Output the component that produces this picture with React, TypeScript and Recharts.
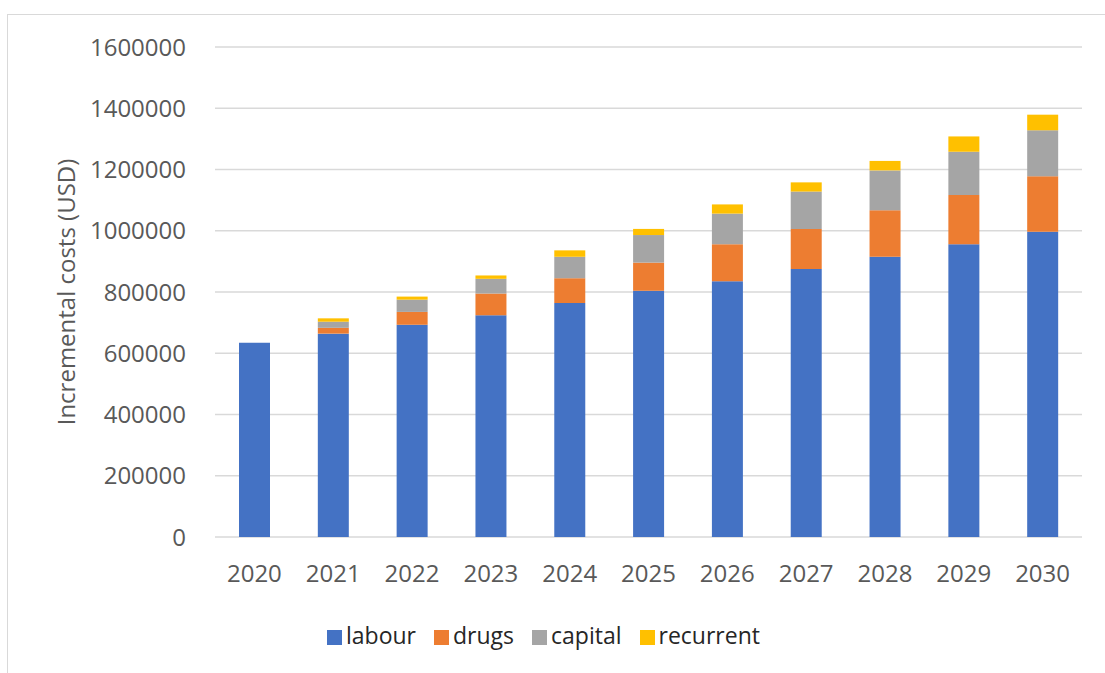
import { BarChart, Bar, XAxis, YAxis, CartesianGrid, Legend } from "recharts"

const years = ["2020", "2021", "2022", "2023", "2024", "2025", "2026", "2027", "2028", "2029", "2030"]
const labour = [634000, 664000, 693000, 724000, 764000, 804000, 835000, 875000, 915000, 956000, 997000]
const drugs = [0, 19000, 42000, 71000, 81000, 92000, 121000, 131000, 152000, 161000, 181000]
const capital = [0, 20000, 40000, 48000, 70000, 90000, 100000, 122000, 130000, 141000, 150000]
const recurrent = [0, 11000, 10000, 11000, 21000, 20000, 30000, 30000, 31000, 50000, 51000]
const yTicks = [0, 200000, 400000, 600000, 800000, 1000000, 1200000, 1400000, 1600000]

const chartData = years.map((year, i) => ({
  year,
  labour: labour[i],
  drugs: drugs[i],
  capital: capital[i],
  recurrent: recurrent[i],
}))

const font = "'Open Sans', 'DejaVu Sans', sans-serif"
const textColor = "#595959"

function YLabel(props: any) {
  const { viewBox } = props
  const cx = viewBox.x + 65
  const cy = viewBox.y + viewBox.height / 2
  return (
    <text
      x={cx}
      y={cy}
      transform={`rotate(-90, ${cx}, ${cy})`}
      textAnchor="middle"
      dominantBaseline="central"
      fill={textColor}
      fontSize={24}
      fontFamily={font}
    >
      Incremental costs (USD)
    </text>
  )
}

export default function App() {
  return (
    <div style={{ position: "fixed", left: 0, top: 0, width: 1105, height: 673, background: "#fff" }}>
      <div
        style={{
          position: "absolute",
          left: 7,
          top: 14,
          width: 1105,
          height: 673,
          borderLeft: "1.5px solid #d9d9d9",
          borderTop: "1.5px solid #d9d9d9",
        }}
      />
      <div style={{ position: "absolute", left: 0, top: 0 }}>
        <BarChart
          width={1105}
          height={673}
          data={chartData}
          margin={{ top: 47, right: 23, left: 0, bottom: 21 }}
          barSize={31}
        >
          <CartesianGrid vertical={false} stroke="#d9d9d9" strokeWidth={1.5} />
          <XAxis
            dataKey="year"
            height={81}
            axisLine={false}
            tickLine={false}
            tickSize={0}
            tickMargin={28}
            tick={{ fill: textColor, fontSize: 24, fontFamily: font }}
          />
          <YAxis
            width={215}
            domain={[0, 1600000]}
            ticks={yTicks}
            interval={0}
            axisLine={false}
            tickLine={false}
            tickSize={0}
            tickMargin={29}
            tick={{ fill: textColor, fontSize: 24, fontFamily: font }}
            label={<YLabel />}
          />
          <Legend
            verticalAlign="bottom"
            iconType="square"
            iconSize={15}
            itemSorter={null}
            wrapperStyle={{ left: 0, width: 1105, height: 34, lineHeight: "34px", fontFamily: font, fontSize: 23 }}
            formatter={(value) => <span style={{ color: "#262626", marginRight: 8 }}>{value}</span>}
          />
          <Bar dataKey="labour" stackId="a" fill="#4472C4" isAnimationActive={false} />
          <Bar dataKey="drugs" stackId="a" fill="#ED7D31" isAnimationActive={false} />
          <Bar dataKey="capital" stackId="a" fill="#A5A5A5" isAnimationActive={false} />
          <Bar dataKey="recurrent" stackId="a" fill="#FFC000" isAnimationActive={false} />
        </BarChart>
      </div>
    </div>
  )
}
